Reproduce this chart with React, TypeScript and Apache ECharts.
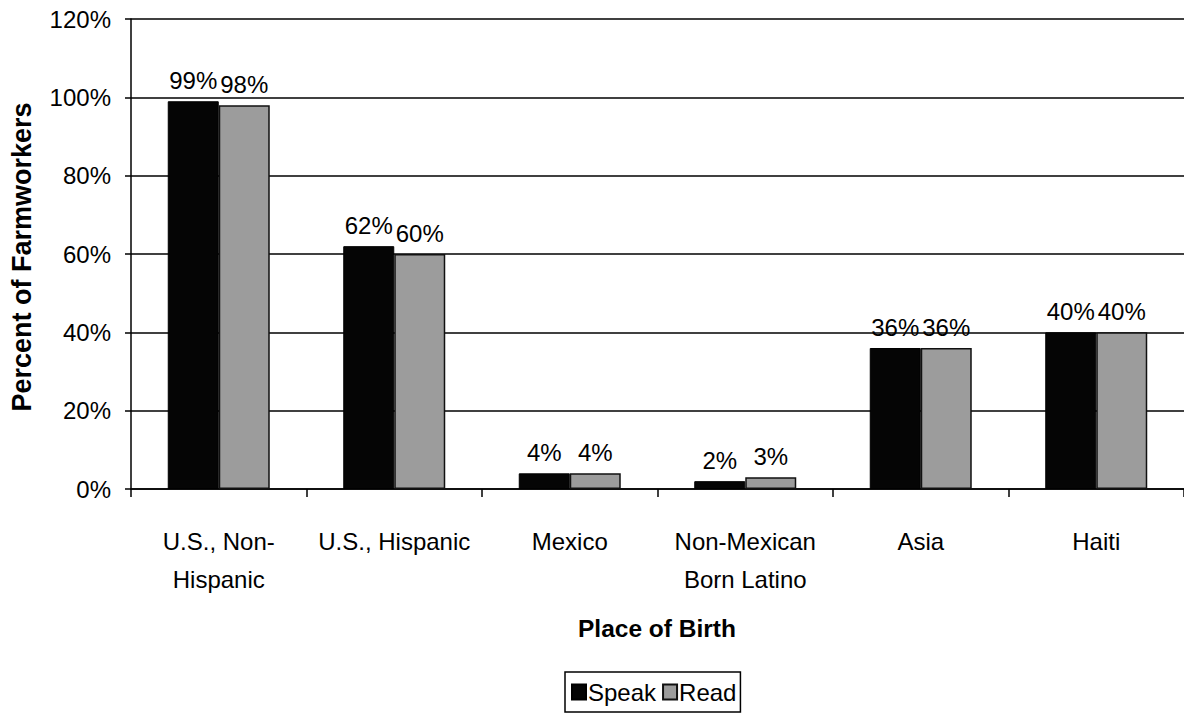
import React, { useEffect, useRef } from "react";
import * as echarts from "echarts";

const categories = [
  "U.S., Non-\nHispanic",
  "U.S., Hispanic",
  "Mexico",
  "Non-Mexican\nBorn Latino",
  "Asia",
  "Haiti",
];
const speakValues = [99, 62, 4, 2, 36, 40];
const readValues = [98, 60, 4, 3, 36, 40];
const yTicks = { min: 0, max: 120, interval: 20 };

const FONT = "Arial, 'Liberation Sans', sans-serif";

export default function App() {
  const ref = useRef<HTMLDivElement>(null);
  useEffect(() => {
    if (!ref.current) return;
    const chart = echarts.init(ref.current, undefined, { renderer: "svg" });
    const labelStyle = {
      show: true,
      position: "top",
      distance: 9,
      formatter: "{c}%",
      fontSize: 24,
      color: "#000",
      fontFamily: FONT,
    };
    chart.setOption({
      animation: false,
      backgroundColor: "#fff",
      textStyle: { fontFamily: FONT, color: "#000" },
      grid: { left: 131, top: 19, width: 1062, height: 470 },
      legend: {
        left: 565,
        top: 672,
        orient: "horizontal",
        itemWidth: 14,
        itemHeight: 15,
        itemGap: 6,
        padding: [8, 4, 8, 6],
        borderColor: "#000",
        borderWidth: 1.5,
        textStyle: { fontSize: 24, color: "#000", fontFamily: FONT, padding: [0, 0, 0, -3] },
        data: [
          { name: "Speak", icon: "rect" },
          { name: "Read", icon: "rect" },
        ],
      },
      xAxis: {
        type: "category",
        data: categories,
        axisLine: { lineStyle: { color: "#000", width: 1.5 } },
        axisTick: { show: true, length: 8, lineStyle: { color: "#000", width: 1.5 } },
        axisLabel: {
          fontSize: 24,
          color: "#000",
          fontFamily: FONT,
          lineHeight: 38,
          margin: 33,
          interval: 0,
        },
      },
      yAxis: {
        type: "value",
        min: yTicks.min,
        max: yTicks.max,
        interval: yTicks.interval,
        axisLine: { show: true, lineStyle: { color: "#000", width: 1.5 } },
        axisTick: { show: true, length: 6, lineStyle: { color: "#000", width: 1.5 } },
        axisLabel: {
          formatter: "{value}%",
          fontSize: 24,
          color: "#000",
          fontFamily: FONT,
          margin: 20,
        },
        splitLine: { show: true, lineStyle: { color: "#000", width: 1.5 } },
      },
      graphic: [
        {
          type: "text",
          x: 657,
          y: 628,
          style: {
            text: "Place of Birth",
            fontSize: 24.5,
            fontWeight: "bold",
            fill: "#000",
            fontFamily: FONT,
            align: "center",
            verticalAlign: "middle",
          },
        },
        {
          type: "text",
          x: 22,
          y: 257,
          rotation: Math.PI / 2,
          style: {
            text: "Percent of Farmworkers",
            fontSize: 27,
            fontWeight: "bold",
            fill: "#000",
            fontFamily: FONT,
            align: "center",
            verticalAlign: "middle",
          },
        },
      ],
      series: [
        {
          name: "Speak",
          type: "bar",
          data: speakValues,
          barWidth: 51,
          barGap: "0%",
          itemStyle: { color: "#050505", borderColor: "#000", borderWidth: 1 },
          label: labelStyle,
        },
        {
          name: "Read",
          type: "bar",
          data: readValues,
          barWidth: 51,
          barGap: "0%",
          itemStyle: { color: "#9c9c9c", borderColor: "#111", borderWidth: 1.5 },
          label: labelStyle,
        },
      ],
    });
    return () => chart.dispose();
  }, []);
  return (
    <div
      ref={ref}
      style={{ position: "fixed", left: 0, top: 0, width: 1184, height: 714, background: "#fff" }}
    />
  );
}
